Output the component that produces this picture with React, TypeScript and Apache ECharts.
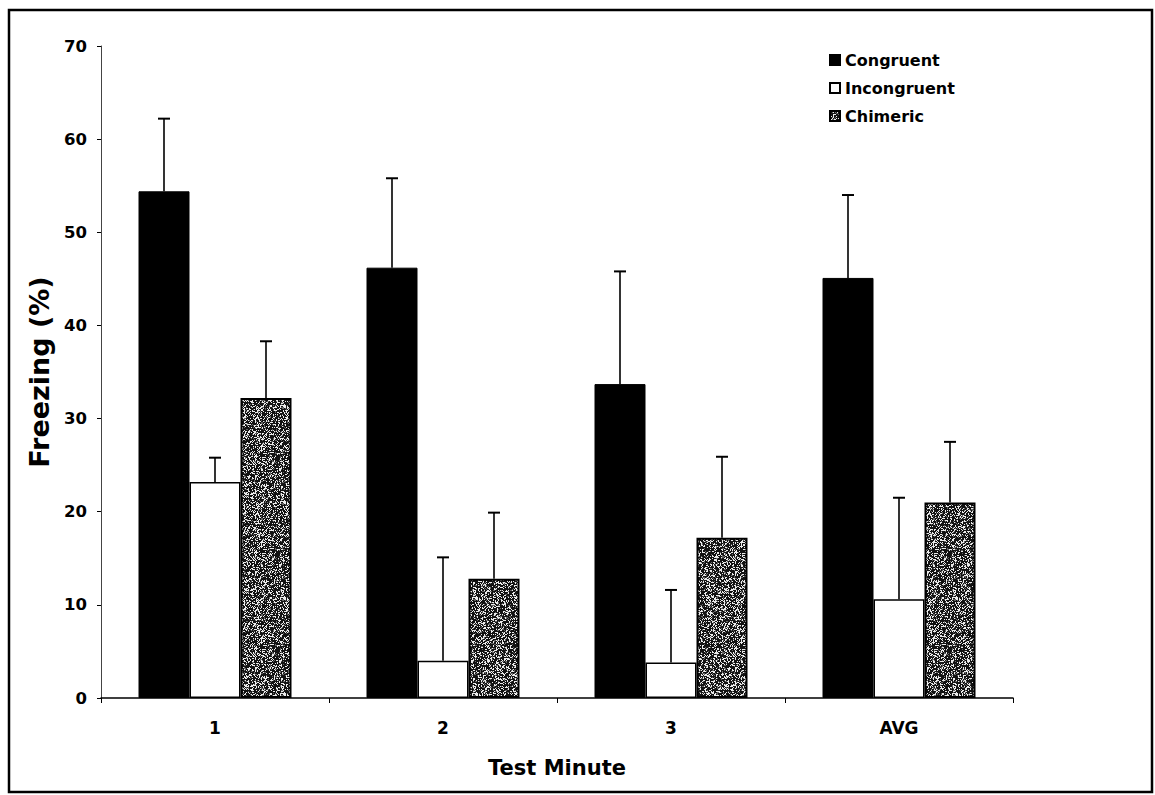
import React, { useEffect, useRef } from "react";
import * as echarts from "echarts";

const categories = ["1", "2", "3", "AVG"];
const seriesNames = ["Congruent", "Incongruent", "Chimeric"];
const congruentMean = [54.4, 46.2, 33.7, 45.1];
const congruentSem = [7.8, 9.6, 12.1, 8.9];
const incongruentMean = [23.2, 4.0, 3.8, 10.6];
const incongruentSem = [2.6, 11.1, 7.8, 10.9];
const chimericMean = [32.2, 12.8, 17.2, 21.0];
const chimericSem = [6.1, 7.1, 8.7, 6.5];
const yTicks = [0, 10, 20, 30, 40, 50, 60, 70];

const FONT = "'DejaVu Sans', Verdana, sans-serif";
const BAR_W = 51;

function makeSpeckle(): string {
  const size = 96;
  const c = document.createElement("canvas");
  c.width = size;
  c.height = size;
  const ctx = c.getContext("2d")!;
  const img = ctx.createImageData(size, size);
  let s = 12345;
  const rnd = () => {
    s = (s * 1103515245 + 12345) & 0x7fffffff;
    return s / 0x7fffffff;
  };
  for (let i = 0; i < size * size; i++) {
    const r = rnd();
    const v = r < 0.6 ? 18 : r < 0.72 ? 100 : 235;
    img.data[i * 4] = v;
    img.data[i * 4 + 1] = v;
    img.data[i * 4 + 2] = v;
    img.data[i * 4 + 3] = 255;
  }
  ctx.putImageData(img, 0, 0);
  return c.toDataURL();
}

export default function App() {
  const ref = useRef<HTMLDivElement>(null);
  useEffect(() => {
    if (!ref.current) return;
    const chart = echarts.init(ref.current, null, { renderer: "svg" });
    const speckle = {
      image: makeSpeckle(),
      repeat: "repeat",
      imageWidth: 96,
      imageHeight: 96,
    } as any;

    const means = [congruentMean, incongruentMean, chimericMean];
    const sems = [congruentSem, incongruentSem, chimericSem];
    const styles = [
      { color: "#000000", borderColor: "#000000", borderWidth: 1 },
      { color: "#ffffff", borderColor: "#000000", borderWidth: 1.5 },
      { color: speckle, borderColor: "#000000", borderWidth: 2 },
    ];

    const barSeries = seriesNames.map((name, i) => ({
      name,
      type: "bar",
      data: means[i],
      barWidth: BAR_W,
      barGap: "0%",
      itemStyle: styles[i],
      z: 2,
    }));

    const errSeries = seriesNames.map((name, i) => ({
      name: name + "-err",
      type: "custom",
      z: 3,
      data: means[i].map((m, k) => [k, m, sems[i][k]]),
      renderItem: (_p: any, api: any) => {
        const k = api.value(0);
        const m = api.value(1);
        const e = api.value(2);
        const base = api.coord([k, m]);
        const top = api.coord([k, m + e]);
        const x = base[0] + (i - 1) * BAR_W;
        const st = { stroke: "#000", lineWidth: 1.6 };
        return {
          type: "group",
          children: [
            { type: "line", shape: { x1: x, y1: base[1], x2: x, y2: top[1] }, style: st },
            { type: "line", shape: { x1: x - 6, y1: top[1], x2: x + 6, y2: top[1] }, style: { stroke: "#000", lineWidth: 2 } },
          ],
        };
      },
    }));

    chart.setOption({
      animation: false,
      backgroundColor: "#ffffff",
      textStyle: { fontFamily: FONT },
      grid: { left: 101, right: 142, top: 46, bottom: 97, containLabel: false },
      legend: {
        data: seriesNames,
        orient: "vertical",
        left: 824,
        top: 47,
        itemWidth: 10,
        itemHeight: 10,
        itemGap: 12,
        icon: "rect",
        textStyle: { fontFamily: FONT, fontWeight: "bold", fontSize: 16, color: "#000" },
      },
      xAxis: {
        type: "category",
        data: categories,
        axisLine: { lineStyle: { color: "#000", width: 1.5 } },
        axisTick: { show: true, length: 5, alignWithLabel: false, lineStyle: { color: "#000" } },
        axisLabel: { margin: 21, fontFamily: FONT, fontWeight: "bold", fontSize: 17, color: "#000" },
        name: "Test Minute",
        nameLocation: "middle",
        nameGap: 59,
        nameTextStyle: { fontFamily: FONT, fontWeight: "bold", fontSize: 21, color: "#000" },
      },
      yAxis: {
        type: "value",
        min: 0,
        max: 70,
        interval: 10,
        axisLine: { show: true, lineStyle: { color: "#444", width: 1 } },
        axisTick: { show: true, length: 4, lineStyle: { color: "#000" } },
        splitLine: { show: false },
        axisLabel: {
          margin: 14,
          fontFamily: FONT,
          fontWeight: "bold",
          fontSize: 16.5,
          color: "#000",
          formatter: (v: number) => (yTicks.includes(v) ? String(v) : ""),
        },
        name: "Freezing (%)",
        nameLocation: "middle",
        nameGap: 47,
        nameRotate: 90,
        nameTextStyle: { fontFamily: FONT, fontWeight: "bold", fontSize: 27, color: "#000" },
      },
      graphic: [
        {
          type: "rect",
          shape: { x: 9, y: 10, width: 1143, height: 782 },
          style: { fill: "none", stroke: "#000", lineWidth: 2.5 },
          silent: true,
        },
      ],
      series: [...barSeries, ...errSeries],
    });
    return () => chart.dispose();
  }, []);
  return (
    <div
      ref={ref}
      style={{ position: "absolute", left: 0, top: 0, width: 1155, height: 795, background: "#fff" }}
    />
  );
}
